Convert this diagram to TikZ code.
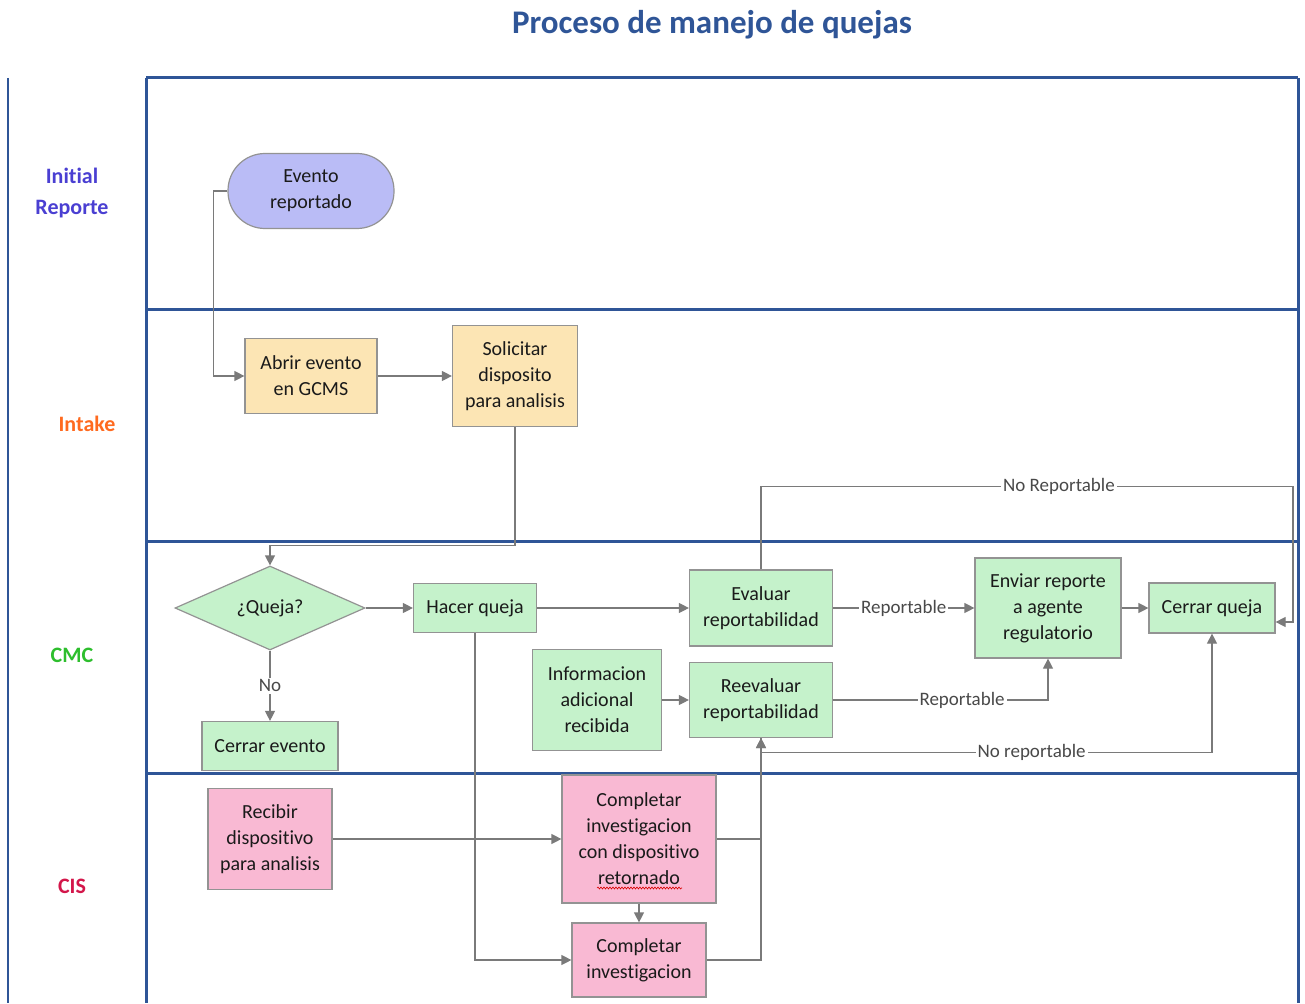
\documentclass[tikz,border=0pt]{standalone}
\usepackage{fontspec}
\setmainfont{Carlito}[Ligatures={NoCommon}]
\usetikzlibrary{shapes.geometric,arrows.meta,decorations.pathmorphing}

\definecolor{laneblue}{HTML}{2F5597}
\definecolor{linegray}{HTML}{7A7A7A}
\definecolor{taskgreen}{HTML}{C5F2CB}
\definecolor{taskpink}{HTML}{F9B9D3}
\definecolor{taskpeach}{HTML}{FCE5B4}
\definecolor{startlilac}{HTML}{BABCF6}
\definecolor{txtgray}{HTML}{1A1A1A}
\definecolor{initblue}{HTML}{4A3FD2}
\definecolor{intakeorange}{HTML}{FF6A1F}
\definecolor{cmcgreen}{HTML}{2DBE2D}
\definecolor{ciscrimson}{HTML}{D3164A}

\tikzstyle{task} = [rectangle,draw=gray!85,line width=1.2pt,text=txtgray,align=center,inner sep=0pt]
\tikzstyle{flow} = [draw=linegray,line width=1.2pt,-{Triangle[length=10pt,width=10pt]}]
\tikzstyle{lbl} = [fill=white,text=linegray!60!black,inner sep=2pt,font=\fontsize{19}{22}\selectfont]
\tikzstyle{lane} = [draw=laneblue,line width=3pt]
\tikzstyle{lanelbl} = [align=center,font=\fontsize{22}{31}\selectfont\bfseries]
\tikzstyle{every node}=[font=\fontsize{20}{26}\selectfont]

\begin{document}
\begin{tikzpicture}[x=1pt,y=-1pt]
	\useasboundingbox (0,0) rectangle (1305,1003);
	\node[font=\fontsize{33}{40}\selectfont\bfseries,text=laneblue] (title) at (712,25) {Proceso de manejo de quejas};
	% lanes
	\draw[laneblue,line width=2pt] (8,78) -- (8,1003);
	\foreach \y in {78,309,541,773}
	{\draw[lane] (146,\y) -- (1298,\y);}
	\draw[lane] (146,78) -- (146,1003);
	\draw[lane] (1298,78) -- (1298,1003);
	\node[lanelbl,text=initblue] (l1) at (72,193) {Initial\\Reporte};
	\node[lanelbl,text=intakeorange] (l2) at (87,424) {Intake};
	\node[lanelbl,text=cmcgreen] (l3) at (72,655) {CMC};
	\node[lanelbl,text=ciscrimson] (l4) at (72,886) {CIS};
	% initial reporte
	\node[task,fill=startlilac,rounded corners=37pt,minimum width=166pt,minimum height=75pt] (evento) at (311,191) {Evento\\reportado};
	% intake
	\node[task,fill=taskpeach,minimum width=132pt,minimum height=75pt] (abrir) at (311,376) {Abrir evento\\en GCMS};
	\node[task,fill=taskpeach,minimum width=125pt,minimum height=101pt] (solic) at (515,376) {Solicitar\\disposito\\para analisis};
	% cmc
	\node[task,diamond,fill=taskgreen,minimum width=190pt,minimum height=77pt] (queja) at (270,608) {¿Queja?};
	\node[task,fill=taskgreen,minimum width=123pt,minimum height=49pt] (hacer) at (475,608) {Hacer queja};
	\node[task,fill=taskgreen,minimum width=143pt,minimum height=76pt] (evaluar) at (761,608) {Evaluar\\reportabilidad};
	\node[task,fill=taskgreen,minimum width=146pt,minimum height=100pt] (enviar) at (1048,608) {Enviar reporte\\a agente\\regulatorio};
	\node[task,fill=taskgreen,minimum width=126pt,minimum height=50pt] (cerrarq) at (1212,608) {Cerrar queja};
	\node[task,fill=taskgreen,minimum width=129pt,minimum height=101pt] (info) at (597,700) {Informacion\\adicional\\recibida};
	\node[task,fill=taskgreen,minimum width=143pt,minimum height=75pt] (reeval) at (761,700) {Reevaluar\\reportabilidad};
	\node[task,fill=taskgreen,minimum width=136pt,minimum height=49pt] (cerrarev) at (270,746) {Cerrar evento};
	% cis
	\node[task,fill=taskpink,minimum width=124pt,minimum height=101pt] (recibir) at (270,839) {Recibir\\dispositivo\\para analisis};
	\node[task,fill=taskpink,minimum width=154pt,minimum height=128pt] (compdisp) at (639,839) {Completar\\investigacion\\con dispositivo\\retornado};
	\node[task,fill=taskpink,minimum width=134pt,minimum height=74pt] (compinv) at (639,960) {Completar\\investigacion};
	\draw[red!85!black,line width=0.6pt,decorate,decoration={snake,amplitude=1pt,segment length=3pt}]
		([xshift=-42pt,yshift=-49pt]compdisp.center) -- ([xshift=43pt,yshift=-49pt]compdisp.center);
	% connectors
	\draw[flow] (evento.west) -- ++(-14,0) |- (abrir.west);
	\draw[flow] (abrir) -- (solic);
	\draw[flow] (solic.south) -- ++(0,118) -| (queja.north);
	\draw[flow] (queja) -- (hacer);
	\draw[flow] (queja) -- node[lbl] {No} (cerrarev);
	\draw[flow] (hacer) -- (evaluar);
	\draw[flow] (evaluar) -- node[lbl] {Reportable} (enviar);
	\draw[flow] (enviar) -- (cerrarq);
	\draw[flow] (evaluar.north) -- ++(0,-83) -- ++(532,0) node[lbl,pos=0.56] {No Reportable} |- ([yshift=-14pt]cerrarq.east);
	\draw[flow] (info) -- (reeval);
	\draw[flow] (reeval.east) -| node[lbl,pos=0.3] {Reportable} (enviar.south);
	\draw[flow] (reeval.south) -- ++(0,14) -| node[lbl,pos=0.3] {No reportable} (cerrarq.south);
	\draw[flow] (hacer.south) |- (compinv.west);
	\draw[flow] (recibir) -- (compdisp);
	\draw[flow] (compdisp) -- (compinv);
	\draw[flow] (compdisp.east) -| (reeval.south);
	\draw[flow] (compinv.east) -| (reeval.south);
\end{tikzpicture}
\end{document}
